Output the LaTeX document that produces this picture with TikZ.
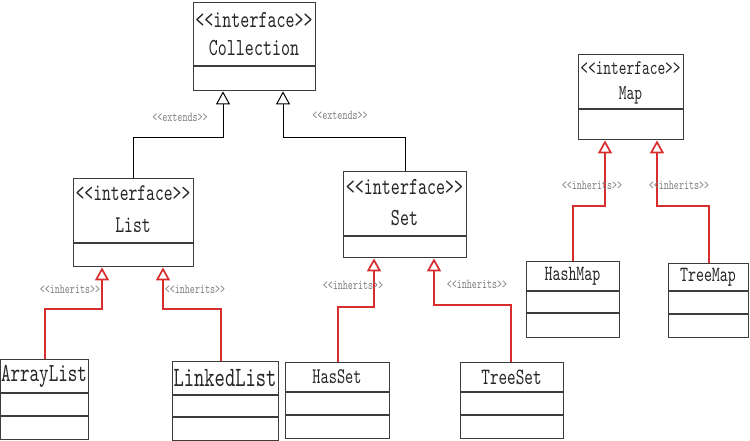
\documentclass[tikz,border=0pt]{standalone}
\usepackage{fontspec}
\usetikzlibrary{arrows.meta}
\newfontfamily\umlfont[FakeStretch=0.7]{lmmono10-regular.otf}
\definecolor{boxline}{RGB}{60,60,60}
\definecolor{inhred}{RGB}{215,45,45}
\definecolor{lblgray}{RGB}{125,125,125}
\tikzset{
  clsbox/.style={draw=boxline, line width=1.4pt, rectangle, inner sep=0pt, anchor=north west},
  divline/.style={draw=boxline, line width=1.4pt},
  ctext/.style={font=\umlfont\fontsize{#1}{#1}\selectfont, inner sep=0pt, text=black!85},
  lbl/.style={font=\umlfont\fontsize{13.7}{13.7}\selectfont, inner sep=0pt, text=lblgray},
  ext/.style={draw=black, line width=1pt, -{Triangle[open, length=13pt, width=14pt]}},
  inh/.style={draw=inhred, line width=1.7pt, -{Triangle[open, length=13pt, width=14pt]}},
}
\begin{document}
\begin{tikzpicture}[x=1pt, y=-1pt]
\useasboundingbox (0,0) rectangle (750,441);
% Collection
\node[clsbox, minimum width=122pt, minimum height=88pt] (coll) at (193,2) {};
\draw[divline] (coll.west |- 0,66) -- (coll.east |- 0,66);
\node[ctext=24.5] (colls) at (254,20) {<<interface>>};
\node[ctext=24.5] (colln) at (254,48) {Collection};
% List
\node[clsbox, minimum width=120pt, minimum height=88pt] (list) at (73,178) {};
\draw[divline] (list.west |- 0,243) -- (list.east |- 0,243);
\node[ctext=24] (lists) at (133,193) {<<interface>>};
\node[ctext=24] (listn) at (133,225) {List};
% Set
\node[clsbox, minimum width=123pt, minimum height=86pt] (set) at (343,171) {};
\draw[divline] (set.west |- 0,236) -- (set.east |- 0,236);
\node[ctext=24.5] (sets) at (404.5,187) {<<interface>>};
\node[ctext=24.5] (setn) at (404.5,218) {Set};
% Map
\node[clsbox, minimum width=105pt, minimum height=85pt] (map) at (578,54) {};
\draw[divline] (map.west |- 0,109) -- (map.east |- 0,109);
\node[ctext=21] (maps) at (630.5,68) {<<interface>>};
\node[ctext=21] (mapn) at (630.5,95) {Map};
% ArrayList
\node[clsbox, minimum width=88pt, minimum height=80pt] (al) at (0,359) {};
\draw[divline] (al.west |- 0,393) -- (al.east |- 0,393);
\draw[divline] (al.west |- 0,416) -- (al.east |- 0,416);
\node[ctext=26] (aln) at (44,376) {ArrayList};
% LinkedList
\node[clsbox, minimum width=106pt, minimum height=79pt] (lk) at (172,361) {};
\draw[divline] (lk.west |- 0,395) -- (lk.east |- 0,395);
\draw[divline] (lk.west |- 0,417) -- (lk.east |- 0,417);
\node[ctext=28] (lkn) at (225,378) {LinkedList};
% HasSet
\node[clsbox, minimum width=104pt, minimum height=76pt] (hs) at (285,362) {};
\draw[divline] (hs.west |- 0,392) -- (hs.east |- 0,392);
\draw[divline] (hs.west |- 0,415) -- (hs.east |- 0,415);
\node[ctext=22.3] (hsn) at (337,377) {HasSet};
% TreeSet
\node[clsbox, minimum width=103pt, minimum height=76pt] (ts) at (460,362) {};
\draw[divline] (ts.west |- 0,392) -- (ts.east |- 0,392);
\draw[divline] (ts.west |- 0,415) -- (ts.east |- 0,415);
\node[ctext=23.4] (tsn) at (511.5,377) {TreeSet};
% HashMap
\node[clsbox, minimum width=93pt, minimum height=76pt] (hm) at (526,261) {};
\draw[divline] (hm.west |- 0,291) -- (hm.east |- 0,291);
\draw[divline] (hm.west |- 0,313) -- (hm.east |- 0,313);
\node[ctext=21.7] (hmn) at (572.5,276) {HashMap};
% TreeMap
\node[clsbox, minimum width=80pt, minimum height=74pt] (tm) at (668,263) {};
\draw[divline] (tm.west |- 0,291) -- (tm.east |- 0,291);
\draw[divline] (tm.west |- 0,314) -- (tm.east |- 0,314);
\node[ctext=21.7] (tmn) at (708,277) {TreeMap};
% attachment points
\coordinate (c1) at ([xshift=30pt]coll.south west);
\coordinate (c2) at ([xshift=90pt]coll.south west);
\coordinate (l1) at ([xshift=29pt]list.south west);
\coordinate (l2) at ([xshift=90pt]list.south west);
\coordinate (s1) at ([xshift=31pt]set.south west);
\coordinate (s2) at ([xshift=91pt]set.south west);
\coordinate (m1) at ([xshift=27pt]map.south west);
\coordinate (m2) at ([xshift=79pt]map.south west);
% connectors
\draw[ext] (list.north) -- ++(0,-40) -| (c1);
\draw[ext] (set.north) -- ++(0,-33) -| (c2);
\draw[inh] (al.north) -- ++(0,-50) -| (l1);
\draw[inh] ([xshift=-5pt]lk.north) -- ++(0,-52) -| (l2);
\draw[inh] (hs.north) -- ++(0,-55) -| (s1);
\draw[inh] ([xshift=-1.5pt]ts.north) -- ++(0,-57) -| (s2);
\draw[inh] (hm.north) -- ++(0,-55) -| (m1);
\draw[inh] (tm.north) -- ++(0,-57) -| (m2);
% labels
\node[lbl] (e1) at (180,117) {<<extends>>};
\node[lbl] (e2) at (340,115) {<<extends>>};
\node[lbl] (i1) at (70,289) {<<inherits>>};
\node[lbl] (i2) at (195,289) {<<inherits>>};
\node[lbl] (i3) at (353,285) {<<inherits>>};
\node[lbl] (i4) at (477,284) {<<inherits>>};
\node[lbl] (i5) at (592,185) {<<inherits>>};
\node[lbl] (i6) at (679,185) {<<inherits>>};
\end{tikzpicture}
\end{document}
